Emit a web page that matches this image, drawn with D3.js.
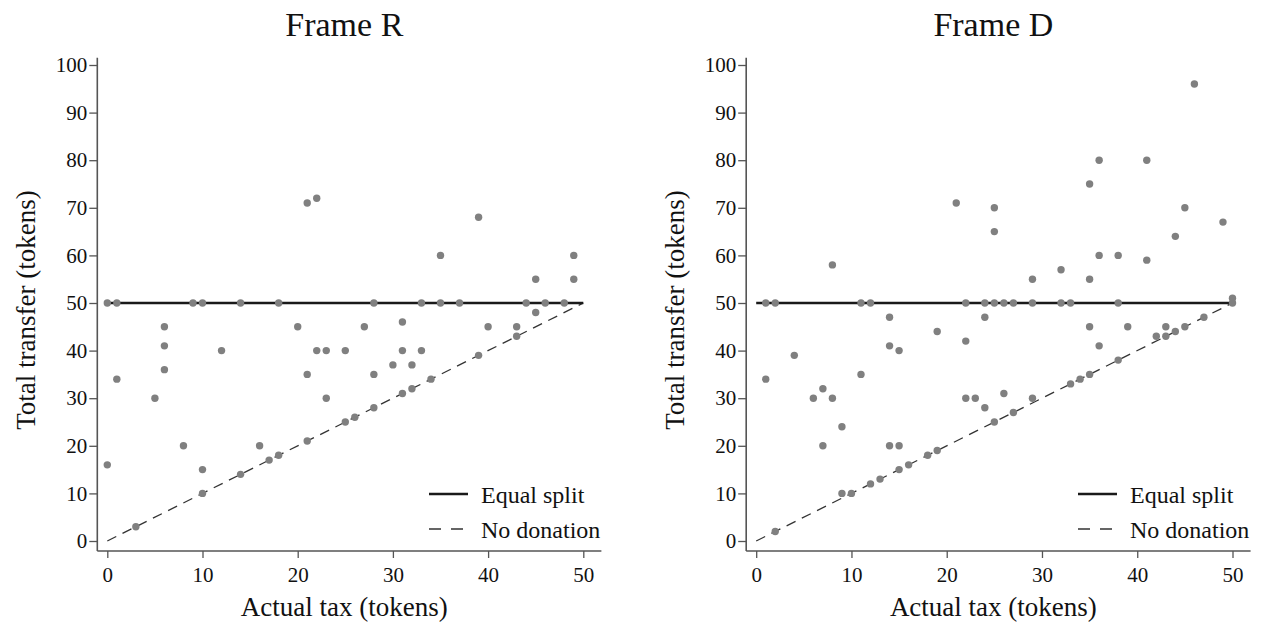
<!DOCTYPE html>
<html>
<head>
<meta charset="utf-8">
<script src="https://cdn.jsdelivr.net/npm/d3@7"></script>
<style>
  html, body { margin: 0; padding: 0; background: #fff; }
  svg { display: block; }
  svg text { font-family: "Liberation Serif", Tinos, "Times New Roman", Times, "DejaVu Serif", serif !important; fill: #111; }
</style>
</head>
<body>
<svg id="chart" width="1261" height="628"></svg>
<script>
// ---------- data ----------
const panelTitles = ["Frame R", "Frame D"];
const xAxisTitle = "Actual tax (tokens)";
const yAxisTitle = "Total transfer (tokens)";
const legendLabels = ["Equal split", "No donation"];
const xTicks = [0, 10, 20, 30, 40, 50];
const yTicks = [0, 10, 20, 30, 40, 50, 60, 70, 80, 90, 100];
const equalSplitLevel = 50;
const taxRange = [0, 50];

const frameRTax = [0,0,1,1,3,5,6,6,6,8,9,10,10,10,12,14,14,16,17,18,18,20,21,21,21,22,22,23,23,25,25,26,27,28,28,28,30,31,31,31,32,32,33,33,34,35,35,37,39,39,40,43,43,44,45,45,46,48,49,49];
const frameRTransfer = [50,16,50,34,3,30,45,41,36,20,50,50,15,10,40,50,14,20,17,18,50,45,71,35,21,72,40,40,30,40,25,26,45,50,35,28,37,46,40,31,37,32,50,40,34,60,50,50,68,39,45,45,43,50,55,48,50,50,60,55];

const frameDTax = [1,2,11,12,22,24,25,26,27,29,32,33,38,50,50,14,24,19,22,14,15,4,1,11,7,6,8,9,7,14,15,22,23,24,9,10,2,12,13,15,16,18,19,29,35,35,39,36,42,43,43,44,45,47,26,29,25,27,33,34,35,38,46,36,41,35,21,25,45,25,49,44,36,38,41,32,8];
const frameDTransfer = [50,50,50,50,50,50,50,50,50,50,50,50,50,50,51,47,47,44,42,41,40,39,34,35,32,30,30,24,20,20,20,30,30,28,10,10,2,12,13,15,16,18,19,55,55,45,45,41,43,45,43,44,45,47,31,30,25,27,33,34,35,38,96,80,80,75,71,70,70,65,67,64,60,60,59,57,58];

const panels = [
  { title: panelTitles[0], tax: frameRTax, transfer: frameRTransfer, x0: 107.3, x1: 583.3, ytitleX: 35, legendX: 429 },
  { title: panelTitles[1], tax: frameDTax, transfer: frameDTransfer, x0: 756.2, x1: 1232.5, ytitleX: 684, legendX: 1078 }
];

const FONT = "'Liberation Serif', Tinos, 'Times New Roman', Times, 'DejaVu Serif', serif";
const svg = d3.select("#chart");
const yTop = 65, yBottom = 541;
const axisColor = "#555";

panels.forEach(p => {
  const x = d3.scaleLinear().domain(taxRange).range([p.x0, p.x1]);
  const y = d3.scaleLinear().domain([0, 100]).range([yBottom, yTop]);
  const g = svg.append("g").attr("font-family", FONT);
  const axisXpos = x(-1.05);
  const axisYpos = y(-2.1);

  // axes lines
  g.append("line").attr("x1", axisXpos).attr("x2", axisXpos)
    .attr("y1", y(101.5)).attr("y2", axisYpos)
    .attr("stroke", axisColor).attr("stroke-width", 1.6);
  g.append("line").attr("x1", axisXpos).attr("x2", x(51.9))
    .attr("y1", axisYpos).attr("y2", axisYpos)
    .attr("stroke", axisColor).attr("stroke-width", 1.6);

  // y axis
  const yAxis = d3.axisLeft(y).tickValues(yTicks).tickSize(8).tickPadding(2);
  const ya = g.append("g").attr("transform", `translate(${axisXpos},0)`).call(yAxis)
    .attr("font-family", FONT).attr("font-size", 21);
  ya.select(".domain").remove();
  ya.selectAll(".tick line").attr("stroke", axisColor).attr("stroke-width", 1.3);
  ya.selectAll(".tick text").attr("fill", "#111");

  // x axis
  const xAxis = d3.axisBottom(x).tickValues(xTicks).tickSize(7).tickPadding(9);
  const xa = g.append("g").attr("transform", `translate(0,${axisYpos})`).call(xAxis)
    .attr("font-family", FONT).attr("font-size", 21);
  xa.select(".domain").remove();
  xa.selectAll(".tick line").attr("stroke", axisColor).attr("stroke-width", 1.3);
  xa.selectAll(".tick text").attr("fill", "#111");

  // reference lines
  g.append("line")
    .attr("x1", x(taxRange[0])).attr("x2", x(taxRange[1]))
    .attr("y1", y(taxRange[0])).attr("y2", y(taxRange[1]))
    .attr("stroke", "#333").attr("stroke-width", 1.3)
    .attr("stroke-dasharray", "10,7");
  g.append("line")
    .attr("x1", x(taxRange[0])).attr("x2", x(taxRange[1]))
    .attr("y1", y(equalSplitLevel)).attr("y2", y(equalSplitLevel))
    .attr("stroke", "#1a1a1a").attr("stroke-width", 2.6);

  // points
  const pts = p.tax.map((t, i) => ({ t, v: p.transfer[i] }));
  g.selectAll("circle.pt").data(pts).enter().append("circle")
    .attr("class", "pt")
    .attr("cx", d => x(d.t)).attr("cy", d => y(d.v))
    .attr("r", 3.7).attr("fill", "#808080");

  // title
  const cx = (p.x0 + p.x1) / 2 - 1;
  g.append("text").attr("x", cx).attr("y", 36).attr("text-anchor", "middle")
    .attr("font-size", 34).text(p.title);

  // x axis title
  g.append("text").attr("x", cx).attr("y", 616).attr("text-anchor", "middle")
    .attr("font-size", 27).text(xAxisTitle);

  // y axis title
  g.append("text")
    .attr("transform", `translate(${p.ytitleX},${(yTop + yBottom) / 2 + 7}) rotate(-90)`)
    .attr("text-anchor", "middle").attr("font-size", 27).text(yAxisTitle);

  // legend
  const lg = g.append("g");
  lg.append("line").attr("x1", p.legendX).attr("x2", p.legendX + 39)
    .attr("y1", 494).attr("y2", 494).attr("stroke", "#1a1a1a").attr("stroke-width", 2.4);
  lg.append("line").attr("x1", p.legendX).attr("x2", p.legendX + 34)
    .attr("y1", 529).attr("y2", 529).attr("stroke", "#333").attr("stroke-width", 1.3)
    .attr("stroke-dasharray", "12,10");
  lg.append("text").attr("x", p.legendX + 52).attr("y", 503).attr("font-size", 24).text(legendLabels[0]);
  lg.append("text").attr("x", p.legendX + 52).attr("y", 538).attr("font-size", 24).text(legendLabels[1]);
});
</script>
</body>
</html>
